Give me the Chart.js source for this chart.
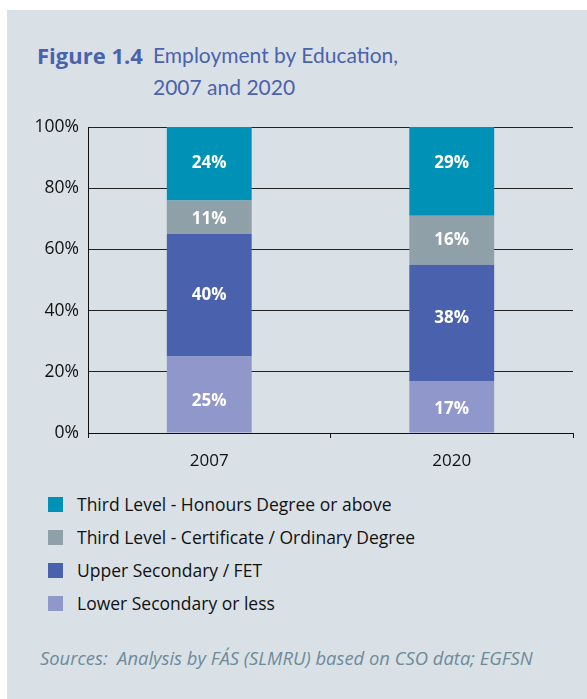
<!DOCTYPE html>
<html>
<head>
<meta charset="utf-8">
<script src="https://cdn.jsdelivr.net/npm/chart.js@4/dist/chart.umd.min.js"></script>
<style>
  html, body { margin: 0; padding: 0; background: #ffffff; width: 587px; height: 699px; overflow: hidden; }
  #panel { position: absolute; left: 7px; top: 10px; width: 580px; height: 689px; background: #d9e1e7; }
  .t { position: absolute; font-family: Lato, "Open Sans", sans-serif; color: #4b62ad; font-size: 21px; font-weight: 400; line-height: 32px; white-space: nowrap; }
  #chartWrap { position: absolute; left: 0; top: 100px; width: 587px; height: 380px; }
  #legend { position: absolute; left: 0; top: 0; }
  .li { position: absolute; left: 48px; width: 540px; height: 33px; }
  .sw { position: absolute; left: 0; width: 15px; height: 15px; }
  .lt { position: absolute; left: 29px; font-family: "Open Sans", sans-serif; font-size: 17.5px; color: #111; white-space: nowrap; line-height: 24px; }
  #src { position: absolute; left: 40px; font-family: "Open Sans", sans-serif; font-style: italic; font-size: 18.4px; color: #6e8a99; white-space: nowrap; line-height: 24px; }
</style>
</head>
<body>
<div id="panel"></div>
<div class="t" style="left:37px; top:39px; font-size:22px; font-weight:700; font-family:'Open Sans', sans-serif;">Figure 1.4</div>
<div class="t" style="left:153px; top:39px;">Employment by Education,</div>
<div class="t" style="left:153px; top:71px;">2007 and 2020</div>
<div id="chartWrap"><canvas id="c" width="587" height="380"></canvas></div>
<div id="legend"></div>
<div id="src">Sources:&nbsp; Analysis by FÁS (SLMRU) based on CSO data; EGFSN</div>
<script>
const categories = ["2007", "2020"];
const seriesNames = [
  "Lower Secondary or less",
  "Upper Secondary / FET",
  "Third Level - Certificate / Ordinary Degree",
  "Third Level - Honours Degree or above"
];
const lowerSecondary = [25, 17];
const upperSecondary = [40, 38];
const thirdCertificate = [11, 16];
const thirdHonours = [24, 29];
const seriesColors = ["#9098cb", "#4a61ad", "#8fa0a9", "#0091b6"];
const yTicks = [0, 20, 40, 60, 80, 100];

const seriesValues = [lowerSecondary, upperSecondary, thirdCertificate, thirdHonours];

// small vertical nudges (px) of the in-bar labels, as placed in the original artwork
const labelNudge = [[7, 2], [0, -5], [2, 0], [-1, -8]];

const labelPlugin = {
  id: 'segLabels',
  afterDatasetsDraw(chart) {
    const ctx = chart.ctx;
    ctx.save();
    ctx.fillStyle = '#ffffff';
    ctx.font = 'bold 17px "Open Sans", sans-serif';
    ctx.textAlign = 'center';
    ctx.textBaseline = 'middle';
    chart.data.datasets.forEach((ds, i) => {
      const meta = chart.getDatasetMeta(i);
      meta.data.forEach((el, j) => {
        const y = (el.y + el.base) / 2 + labelNudge[i][j];
        ctx.fillText(ds.data[j] + '%', el.x, y);
      });
    });
    ctx.restore();
  }
};

new Chart(document.getElementById('c'), {
  type: 'bar',
  data: {
    labels: categories,
    datasets: seriesNames.map((n, i) => ({
      label: n,
      data: seriesValues[i],
      backgroundColor: seriesColors[i],
      borderWidth: 0,
      categoryPercentage: 1,
      barPercentage: 0.35
    }))
  },
  options: {
    responsive: false,
    animation: false,
    devicePixelRatio: 1,
    layout: { padding: { top: 27, right: 14, left: 0, bottom: 0 } },
    plugins: { legend: { display: false }, tooltip: { enabled: false } },
    scales: {
      x: {
        stacked: true,
        afterFit(s) { s.height = 47; },
        grid: { offset: true, drawOnChartArea: false, drawTicks: true, tickLength: 5, color: '#111', lineWidth: 1 },
        border: { display: true, color: '#111', width: 1 },
        ticks: { padding: 13, color: '#111', font: { family: '"Open Sans", sans-serif', size: 17 } }
      },
      y: {
        stacked: true,
        min: 0, max: 100,
        afterFit(s) { s.width = 88; },
        afterBuildTicks(s) { s.ticks = yTicks.map(v => ({ value: v })); },
        grid: { color: '#222', lineWidth: 1, drawTicks: false },
        border: { display: true, color: '#111', width: 1 },
        ticks: { padding: 9, color: '#111', font: { family: '"Open Sans", sans-serif', size: 17.5 }, callback: v => v + '%' }
      }
    }
  },
  plugins: [labelPlugin]
});

// HTML legend (top series first)
const legend = document.getElementById('legend');
const order = [3, 2, 1, 0];
order.forEach((idx, k) => {
  const cy = 504 + k * 33;
  const row = document.createElement('div');
  row.className = 'li';
  row.style.top = (cy - 16) + 'px';
  const sw = document.createElement('div');
  sw.className = 'sw';
  sw.style.top = '9px';
  sw.style.background = seriesColors[idx];
  const lt = document.createElement('div');
  lt.className = 'lt';
  lt.style.top = '4px';
  lt.textContent = seriesNames[idx];
  row.appendChild(sw); row.appendChild(lt);
  legend.appendChild(row);
});
document.getElementById('src').style.top = '646px';
</script>
</body>
</html>
